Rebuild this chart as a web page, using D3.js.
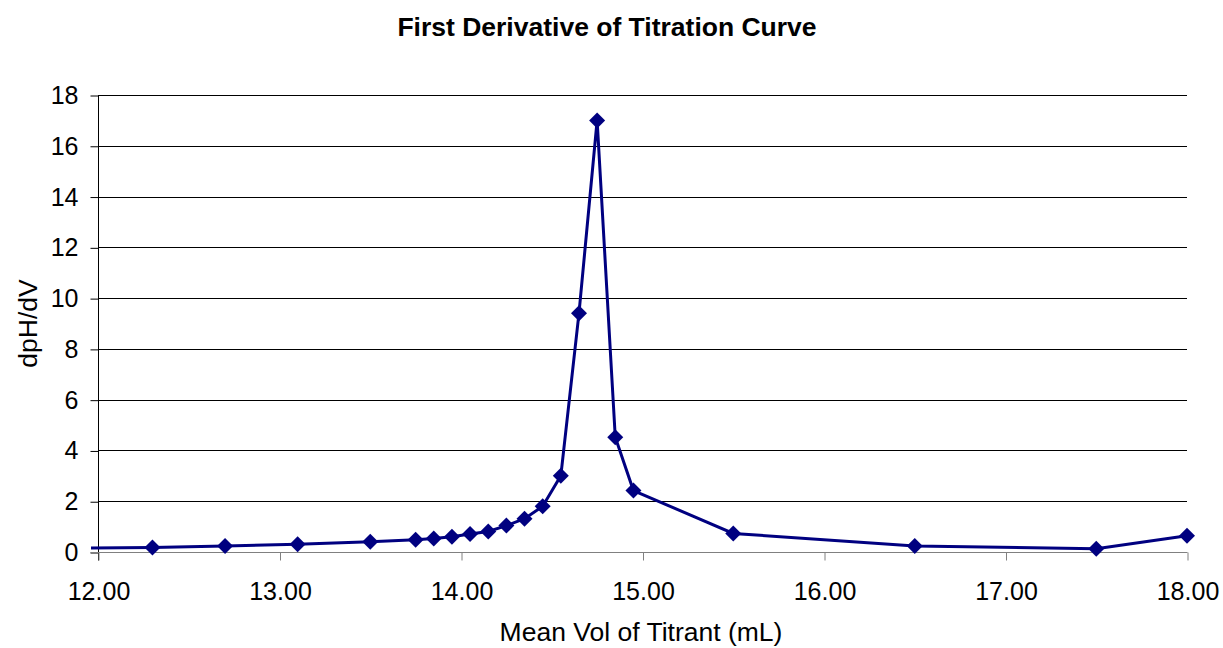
<!DOCTYPE html>
<html><head><meta charset="utf-8">
<script src="https://cdn.jsdelivr.net/npm/d3@7"></script>
<style>body{margin:0;background:#fff}svg{display:block}text{font-family:"Liberation Sans",Arial,sans-serif}</style>
</head><body><svg id="c" width="1223" height="648"></svg>
<script>
const xVals = [11.9, 12.3, 12.7, 13.1, 13.5, 13.75, 13.85, 13.95, 14.05, 14.15, 14.25, 14.35, 14.45, 14.55, 14.65, 14.75, 14.85, 14.95, 15.5, 16.5, 17.5, 18.0];
const yVals = [0.15, 0.18, 0.24, 0.31, 0.4, 0.48, 0.53, 0.6, 0.71, 0.81, 1.04, 1.31, 1.8, 3.0, 9.4, 17.0, 4.52, 2.42, 0.73, 0.24, 0.13, 0.64];
const xTicks = [12, 13, 14, 15, 16, 17, 18];
const yTicks = [0, 2, 4, 6, 8, 10, 12, 14, 16, 18];
const title = "First Derivative of Titration Curve";
const xLabel = "Mean Vol of Titrant (mL)";
const yLabel = "dpH/dV";

const svg = d3.select("#c");
const L = 98, R = 1187, T = 95, B = 552;
const x = d3.scaleLinear().domain([12, 18]).range([L, R]);
const y = d3.scaleLinear().domain([0, 18]).range([B, T]);

svg.append("defs").append("clipPath").attr("id","clip")
  .append("rect").attr("x", L - 7).attr("y", T - 20).attr("width", R - L + 30).attr("height", B - T + 40);

// gridlines
svg.append("g").selectAll("line").data(yTicks.filter(d => d > 0)).join("line")
  .attr("x1", L).attr("x2", R).attr("y1", d => Math.round(y(d)) + 0.5).attr("y2", d => Math.round(y(d)) + 0.5)
  .attr("stroke", "#000").attr("stroke-width", 1);

// axes
const yAxis = d3.axisLeft(y).tickValues(yTicks).tickSize(8).tickPadding(12).tickFormat(d3.format("d"));
const gy = svg.append("g").attr("transform", `translate(${L + 0.5},0.5)`).call(yAxis);
gy.select(".domain").attr("stroke", "#000").attr("d", `M-0,${T}V${B + 8}`);
gy.selectAll(".tick line").attr("stroke", "#000");
gy.selectAll("text").attr("font-size", 25).attr("fill", "#000");

const xAxis = d3.axisBottom(x).tickValues(xTicks).tickSize(8).tickFormat(d3.format(".2f"));
const gx = svg.append("g").attr("transform", `translate(0.5,${B + 0.5})`).call(xAxis);
gx.select(".domain").attr("stroke", "#808080").attr("d", `M${L - 8},0H${R}`);
gx.selectAll(".tick line").attr("stroke", "#808080");
gx.selectAll("text").attr("font-size", 25).attr("fill", "#000").attr("y", 47).attr("dy", 0);

// line
const pts = xVals.map((v, i) => [v, yVals[i]]);
svg.append("path").datum(pts).attr("clip-path", "url(#clip)")
  .attr("d", d3.line().x(d => x(d[0])).y(d => y(d[1])))
  .attr("fill", "none").attr("stroke", "#000080").attr("stroke-width", 3);

// markers
svg.append("g").selectAll("path").data(pts.filter(d => d[0] >= 12)).join("path")
  .attr("transform", d => `translate(${x(d[0])},${y(d[1])})`)
  .attr("d", "M0,-8L8,0L0,8L-8,0Z")
  .attr("fill", "#000080");

// title & labels
svg.append("text").attr("x", 607).attr("y", 36).attr("text-anchor", "middle")
  .attr("font-size", 26.5).attr("font-weight", "bold").text(title);
svg.append("text").attr("x", 641).attr("y", 641).attr("text-anchor", "middle")
  .attr("font-size", 26.5).text(xLabel);
svg.append("text").attr("transform", `translate(37,${(T + B) / 2}) rotate(-90)`).attr("text-anchor", "middle")
  .attr("font-size", 26.5).text(yLabel);
</script></body></html>
